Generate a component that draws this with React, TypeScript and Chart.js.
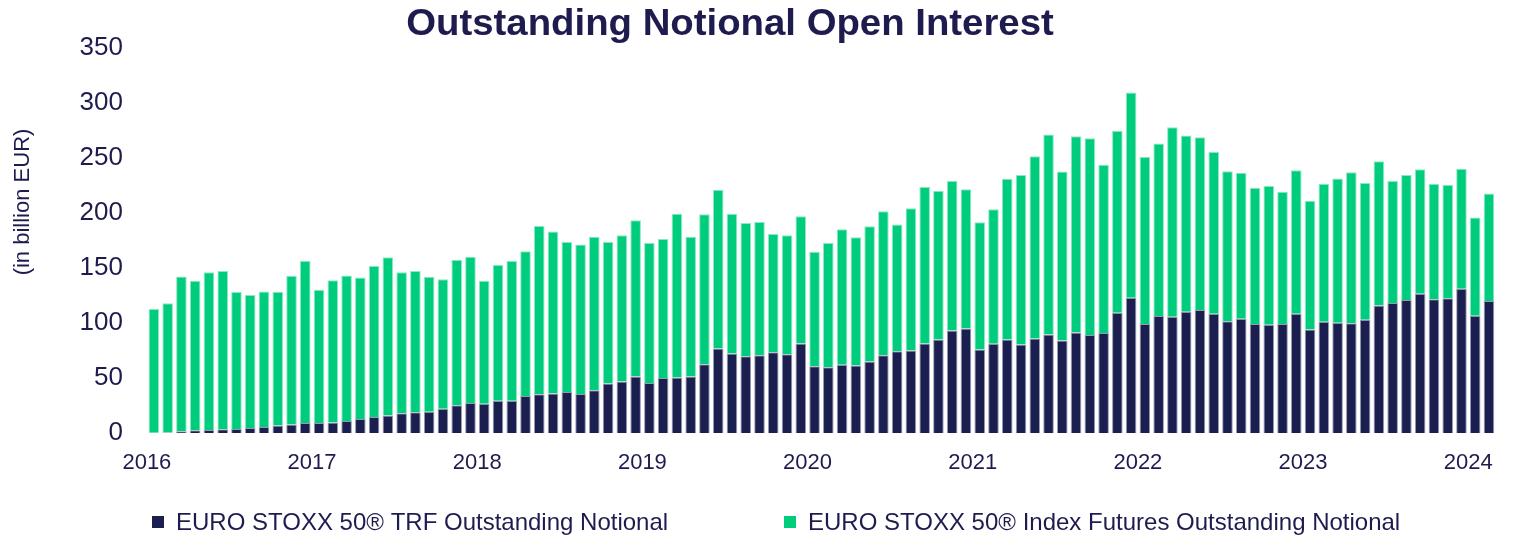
import { useEffect, useRef } from 'react';
import { Chart, registerables } from 'chart.js';

Chart.register(...registerables);

const TITLE = 'Outstanding Notional Open Interest';
const Y_TITLE = '(in billion EUR)';

const years = ['2016', '2017', '2018', '2019', '2020', '2021', '2022', '2023', '2024'];
const months = ['Jan', 'Feb', 'Mar', 'Apr', 'May', 'Jun', 'Jul', 'Aug', 'Sep', 'Oct', 'Nov', 'Dec'];

const seriesLabels = [
  'EURO STOXX 50® TRF Outstanding Notional',
  'EURO STOXX 50® Index Futures Outstanding Notional',
];

// EURO STOXX 50 TRF outstanding notional (bn EUR), Jan 2016 - Feb 2024
const trfValues = [
  0.2, 0.5, 1.5, 2.4, 2.7, 3.3, 3.6, 4.5, 5.4, 6.9, 7.8, 9.0,
  9.0, 9.6, 11.0, 12.8, 14.6, 15.8, 17.9, 18.8, 19.4, 22.1, 25.1, 27.2,
  26.6, 29.3, 29.3, 33.7, 35.3, 35.9, 37.3, 35.5, 38.9, 44.9, 46.7, 51.2,
  45.4, 49.9, 50.5, 51.2, 62.5, 76.8, 72.1, 69.7, 70.6, 73.3, 71.5, 81.3,
  60.7, 59.8, 61.9, 61.3, 64.9, 70.6, 74.2, 75.0, 81.3, 84.9, 93.0, 94.8,
  75.9, 81.0, 84.9, 80.4, 85.8, 89.4, 84.0, 91.2, 89.1, 90.9, 109.1, 122.9,
  99.0, 106.2, 105.5, 110.0, 111.8, 108.2, 101.4, 103.7, 99.0, 98.4, 99.0, 108.2,
  93.9, 101.1, 100.2, 99.6, 102.9, 115.8, 118.1, 120.8, 126.5, 121.4, 122.3, 131.0,
  106.4, 119.9,
];

// EURO STOXX 50 Index Futures outstanding notional (bn EUR)
const futuresValues = [
  112.5, 117.3, 140.6, 135.8, 143.3, 143.9, 124.4, 120.8, 123.2, 121.4, 134.9, 147.4,
  121.1, 129.2, 132.0, 128.5, 137.1, 143.9, 128.1, 128.4, 122.4, 117.5, 132.2, 132.8,
  111.6, 123.3, 126.9, 131.4, 152.8, 147.2, 136.2, 135.6, 139.3, 128.6, 132.8, 142.0,
  127.2, 126.3, 148.7, 127.0, 136.1, 144.0, 127.1, 121.1, 121.1, 107.4, 108.0, 115.5,
  103.8, 112.8, 123.2, 116.4, 122.9, 130.7, 115.1, 129.0, 142.1, 135.0, 135.8, 126.5,
  115.5, 122.1, 146.0, 153.8, 165.5, 181.6, 153.5, 178.3, 178.6, 152.8, 165.5, 186.4,
  151.6, 156.7, 172.1, 160.1, 156.8, 146.9, 136.4, 132.6, 123.8, 126.0, 120.2, 130.5,
  117.0, 125.3, 131.0, 137.3, 124.1, 131.0, 110.7, 113.4, 113.1, 105.0, 102.9, 108.9,
  89.2, 97.5,
];

const yTicks = [0, 50, 100, 150, 200, 250, 300, 350];

const categories = years
  .flatMap((y) => months.map((m) => `${m} ${y}`))
  .slice(0, trfValues.length);

const NAVY = '#1a1f4f';
const GREEN = '#00cc7d';
const TEXT = '#1e1c4f';
const FONT = '"Liberation Sans", Arial, Helvetica, sans-serif';

const overlayPlugin = {
  id: 'overlay',
  afterDraw(chart: any) {
    const ctx = chart.ctx as CanvasRenderingContext2D;
    ctx.save();
    ctx.fillStyle = TEXT;
    // title (slightly widened, as in the original artwork)
    ctx.save();
    ctx.translate(722, 27);
    ctx.scale(1.065, 1);
    ctx.font = `bold 36px ${FONT}`;
    ctx.textAlign = 'center';
    ctx.textBaseline = 'alphabetic';
    ctx.fillText(TITLE, 0, 0);
    ctx.restore();
    // y-axis title
    ctx.save();
    ctx.translate(15, 194);
    ctx.rotate(-Math.PI / 2);
    ctx.font = `22px ${FONT}`;
    ctx.textAlign = 'center';
    ctx.textBaseline = 'middle';
    ctx.fillText(Y_TITLE, 0, 0);
    ctx.restore();
    // legend
    const legendX = [144, 776];
    const legendY = 514;
    ctx.font = `24px ${FONT}`;
    ctx.textAlign = 'left';
    ctx.textBaseline = 'middle';
    chart.data.datasets.forEach((ds: any, i: number) => {
      const x = legendX[i];
      ctx.fillStyle = ds.backgroundColor;
      ctx.fillRect(x, legendY - 6, 12, 12);
      ctx.fillStyle = TEXT;
      ctx.fillText(ds.label, x + 24, legendY + 1);
    });
    ctx.restore();
  },
};

export default function App() {
  const canvasRef = useRef<HTMLCanvasElement | null>(null);

  useEffect(() => {
    if (!canvasRef.current) return;
    const chart = new Chart(canvasRef.current, {
      type: 'bar',
      data: {
        labels: categories,
        datasets: [
          {
            label: seriesLabels[0],
            data: trfValues,
            backgroundColor: NAVY,
            borderColor: 'rgba(26,31,79,0.45)',
            borderWidth: 1,
            barPercentage: 0.77,
            categoryPercentage: 1.0,
          },
          {
            label: seriesLabels[1],
            data: futuresValues,
            backgroundColor: GREEN,
            borderColor: 'rgba(0,204,125,0.45)',
            borderWidth: 1,
            barPercentage: 0.77,
            categoryPercentage: 1.0,
          },
        ],
      },
      options: {
        animation: false,
        responsive: true,
        maintainAspectRatio: false,
        layout: { padding: { top: 35, left: 41, right: 3, bottom: 64 } },
        plugins: {
          legend: { display: false },
          title: { display: false },
          tooltip: { enabled: false },
        },
        scales: {
          x: {
            stacked: true,
            grid: { display: false, drawTicks: false },
            border: { display: false },
            afterFit: (scale: any) => {
              scale.height = 40;
            },
            ticks: {
              autoSkip: false,
              maxRotation: 0,
              minRotation: 0,
              padding: 17,
              labelOffset: -7,
              color: TEXT,
              font: { family: FONT, size: 22 },
              callback: (_v: any, index: number) => {
                const lab = categories[index];
                return lab.startsWith('Jan') ? lab.slice(4) : '';
              },
            },
          },
          y: {
            stacked: true,
            min: 0,
            max: 350,
            grid: { display: false, drawTicks: false },
            border: { display: false },
            afterFit: (scale: any) => {
              scale.width = 98;
            },
            afterBuildTicks: (scale: any) => {
              scale.ticks = yTicks.map((v) => ({ value: v }));
            },
            ticks: {
              padding: 24,
              color: TEXT,
              font: { family: FONT, size: 26 },
            },
          },
        },
      },
      plugins: [overlayPlugin],
    });
    return () => chart.destroy();
  }, []);

  return (
    <div style={{ position: 'absolute', left: 8, top: 8, width: 1498, height: 529 }}>
      <canvas ref={canvasRef} />
    </div>
  );
}
